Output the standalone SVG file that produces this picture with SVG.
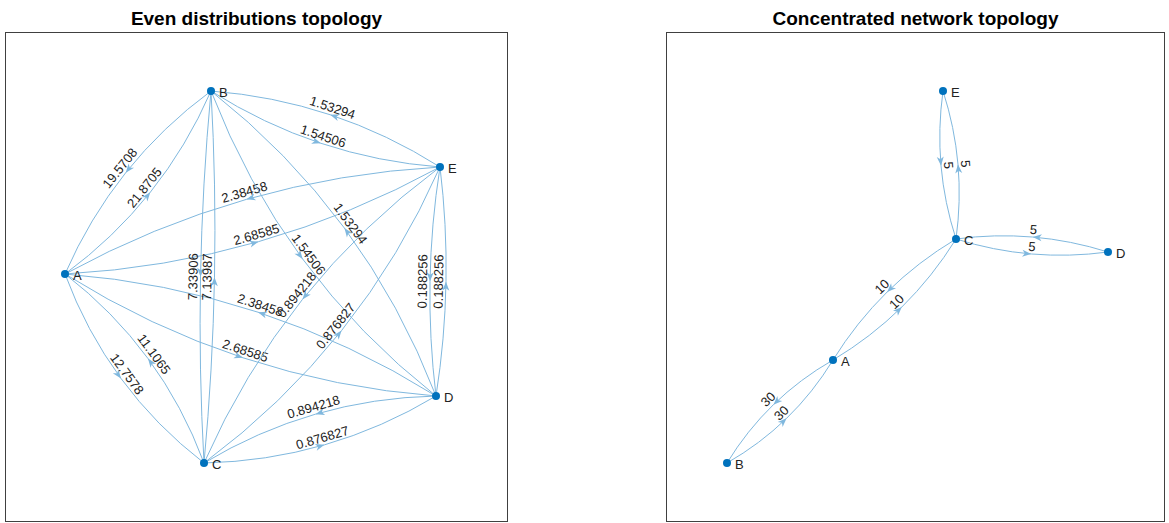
<svg xmlns="http://www.w3.org/2000/svg" width="1169" height="523" viewBox="0 0 1169 523">
<style>
.frame{fill:#fff;stroke:#404040;stroke-width:1}
.title{font-family:"Liberation Sans",Arial,sans-serif;font-size:19px;font-weight:bold;fill:#000;text-anchor:middle}
.e{fill:none;stroke:#80b8de;stroke-width:1;marker-mid:url(#arr)}
.lbl{font-family:"Liberation Sans",Arial,sans-serif;font-size:13px;fill:#222;text-anchor:middle}
.node circle{fill:#0072bd}
.node text{font-family:"Liberation Sans",Arial,sans-serif;font-size:13px;fill:#222}
</style>
<defs>
<marker id="arr" markerUnits="userSpaceOnUse" markerWidth="12" markerHeight="10" viewBox="-10 -5 12 10" refX="0" refY="0" orient="auto">
<path d="M0,0 L-9,-3.5 L-6.5,0 L-9,3.5 Z" fill="#80b8de"/>
</marker>
</defs>
<rect width="1169" height="523" fill="#fff"/>
<rect class="frame" x="5.5" y="32.5" width="502" height="489"/>
<rect class="frame" x="666.5" y="32.5" width="498" height="489"/>
<text class="title" x="256.5" y="25">Even distributions topology</text>
<text class="title" x="915.5" y="25">Concentrated network topology</text>

<g id="connectors-left">
<path class="e" d="M65,274 Q113.78,238.04 150.27,192.29 Q186.78,146.54 211,91"/>
<text class="lbl" transform="translate(150.27,192.29) rotate(-51.4)" y="-3">21.8705</text>
<path class="e" d="M211,91 Q162.23,126.96 125.73,172.71 Q89.23,218.46 65,274"/>
<text class="lbl" transform="translate(125.73,172.71) rotate(-51.4)" y="-3">19.5708</text>
<path class="e" d="M65,274 Q86.22,331.21 120.97,378.45 Q155.72,425.71 204,463"/>
<text class="lbl" transform="translate(120.97,378.45) rotate(53.66)" y="-3">12.7578</text>
<path class="e" d="M204,463 Q182.79,405.8 148.03,358.55 Q113.29,311.3 65,274"/>
<text class="lbl" transform="translate(148.03,358.55) rotate(53.66)" y="-3">11.1065</text>
<path class="e" d="M65,274 Q150.25,327.3 243,357.8 Q335.75,388.3 436,396"/>
<text class="lbl" transform="translate(243,357.8) rotate(18.2)" y="-3">2.68585</text>
<path class="e" d="M436,396 Q350.75,342.7 258,312.2 Q165.25,281.7 65,274"/>
<text class="lbl" transform="translate(258,312.2) rotate(18.2)" y="-3">2.38458</text>
<path class="e" d="M65,274 Q164.79,268.41 258.54,241.65 Q352.29,214.91 440,167"/>
<text class="lbl" transform="translate(258.54,241.65) rotate(-15.9)" y="-3">2.68585</text>
<path class="e" d="M440,167 Q340.22,172.6 246.46,199.35 Q152.72,226.1 65,274"/>
<text class="lbl" transform="translate(246.46,199.35) rotate(-15.9)" y="-3">2.38458</text>
<path class="e" d="M211,91 Q202.25,183.87 200.5,276.87 Q198.75,369.87 204,463"/>
<text class="lbl" transform="translate(200.5,276.87) rotate(-88.92)" y="-3">7.33906</text>
<path class="e" d="M204,463 Q212.75,370.13 214.5,277.13 Q216.25,184.13 211,91"/>
<text class="lbl" transform="translate(214.5,277.13) rotate(-88.92)" y="-3">7.13987</text>
<path class="e" d="M211,91 Q246.33,182.69 302.58,258.94 Q358.83,335.19 436,396"/>
<text class="lbl" transform="translate(302.58,258.94) rotate(53.58)" y="-3">1.54506</text>
<path class="e" d="M436,396 Q400.67,304.32 344.42,228.06 Q288.17,151.82 211,91"/>
<text class="lbl" transform="translate(344.42,228.06) rotate(53.58)" y="-3">1.53294</text>
<path class="e" d="M211,91 Q263.53,124.24 320.78,143.24 Q378.03,162.24 440,167"/>
<text class="lbl" transform="translate(320.78,143.24) rotate(18.36)" y="-3">1.54506</text>
<path class="e" d="M440,167 Q387.48,133.77 330.22,114.76 Q272.98,95.77 211,91"/>
<text class="lbl" transform="translate(330.22,114.76) rotate(18.36)" y="-3">1.53294</text>
<path class="e" d="M204,463 Q266.44,461.62 324.44,444.87 Q382.44,428.12 436,396"/>
<text class="lbl" transform="translate(324.44,444.87) rotate(-16.11)" y="-3">0.876827</text>
<path class="e" d="M436,396 Q373.56,397.38 315.56,414.13 Q257.56,430.88 204,463"/>
<text class="lbl" transform="translate(315.56,414.13) rotate(-16.11)" y="-3">0.894218</text>
<path class="e" d="M204,463 Q282.55,404.59 341.55,330.59 Q400.55,256.59 440,167"/>
<text class="lbl" transform="translate(341.55,330.59) rotate(-51.44)" y="-3">0.876827</text>
<path class="e" d="M440,167 Q361.45,225.42 302.45,299.41 Q243.45,373.42 204,463"/>
<text class="lbl" transform="translate(302.45,299.41) rotate(-51.44)" y="-3">0.894218</text>
<path class="e" d="M436,396 Q445,338.89 446,281.64 Q447,224.39 440,167"/>
<text class="lbl" transform="translate(446,281.64) rotate(-89)" y="-3">0.188256</text>
<path class="e" d="M440,167 Q431,224.11 430,281.36 Q429,338.61 436,396"/>
<text class="lbl" transform="translate(430,281.36) rotate(-89)" y="-3">0.188256</text>
</g>

<g id="connectors-right">
<path class="e" d="M833,360 Q799.88,378.94 773.38,404.69 Q746.88,430.44 727,463"/>
<text class="lbl" transform="translate(773.38,404.69) rotate(-44.2)" y="-3">30</text>
<path class="e" d="M727,463 Q760.12,444.07 786.62,418.31 Q813.12,392.57 833,360"/>
<text class="lbl" transform="translate(786.62,418.31) rotate(-44.2)" y="-3">30</text>
<path class="e" d="M833,360 Q871.12,337.24 901.86,306.99 Q932.62,276.74 956,239"/>
<text class="lbl" transform="translate(901.86,306.99) rotate(-44.53)" y="-3">10</text>
<path class="e" d="M956,239 Q917.89,261.77 887.14,292.01 Q856.39,322.27 833,360"/>
<text class="lbl" transform="translate(887.14,292.01) rotate(-44.53)" y="-3">10</text>
<path class="e" d="M956,239 Q993.28,250.72 1031.28,253.97 Q1069.28,257.22 1108,252"/>
<text class="lbl" transform="translate(1031.28,253.97) rotate(4.89)" y="-3">5</text>
<path class="e" d="M1108,252 Q1070.72,240.28 1032.72,237.03 Q994.72,233.78 956,239"/>
<text class="lbl" transform="translate(1032.72,237.03) rotate(4.89)" y="-3">5</text>
<path class="e" d="M956,239 Q961.22,201.26 957.97,164.26 Q954.72,127.26 943,91"/>
<text class="lbl" transform="translate(957.97,164.26) rotate(85)" y="-3">5</text>
<path class="e" d="M943,91 Q937.78,128.75 941.03,165.74 Q944.28,202.75 956,239"/>
<text class="lbl" transform="translate(941.03,165.74) rotate(85)" y="-3">5</text>
</g>

<g id="left-A" class="node"><circle cx="65" cy="274" r="4"/><text x="73" y="279.5">A</text></g>
<g id="left-B" class="node"><circle cx="211" cy="91" r="4"/><text x="219" y="96.5">B</text></g>
<g id="left-C" class="node"><circle cx="204" cy="463" r="4"/><text x="212" y="468.5">C</text></g>
<g id="left-D" class="node"><circle cx="436" cy="396" r="4"/><text x="444" y="401.5">D</text></g>
<g id="left-E" class="node"><circle cx="440" cy="167" r="4"/><text x="448" y="172.5">E</text></g>

<g id="right-A" class="node"><circle cx="833" cy="360" r="4"/><text x="841" y="365.5">A</text></g>
<g id="right-B" class="node"><circle cx="727" cy="463" r="4"/><text x="735" y="468.5">B</text></g>
<g id="right-C" class="node"><circle cx="956" cy="239" r="4"/><text x="964" y="244.5">C</text></g>
<g id="right-D" class="node"><circle cx="1108" cy="252" r="4"/><text x="1116" y="257.5">D</text></g>
<g id="right-E" class="node"><circle cx="943" cy="91" r="4"/><text x="951" y="96.5">E</text></g>
</svg>
